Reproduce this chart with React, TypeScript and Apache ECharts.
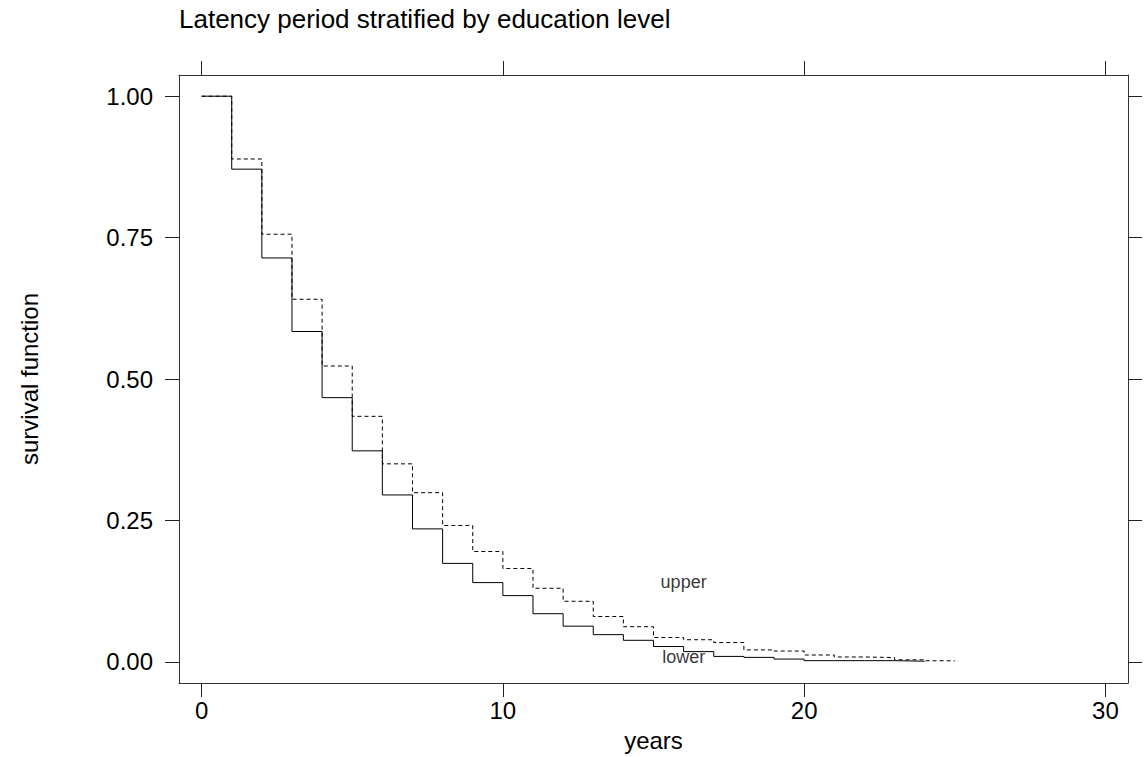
import React, { useEffect, useRef } from 'react';
import * as echarts from 'echarts';

// survival estimates, one value per year (step starts at that year)
const yearsLower = [0, 1, 2, 3, 4, 5, 6, 7, 8, 9, 10, 11, 12, 13, 14, 15, 16, 17, 18, 19, 20, 21, 22, 23, 24];
const survLower = [1.0, 0.871, 0.714, 0.584, 0.467, 0.373, 0.295, 0.235, 0.174, 0.14, 0.117, 0.085, 0.063, 0.048, 0.038, 0.027, 0.018, 0.0095, 0.0078, 0.0048, 0.002, 0.002, 0.002, 0.001, 0.001];

const yearsUpper = [0, 1, 2, 3, 4, 5, 6, 7, 8, 9, 10, 11, 12, 13, 14, 15, 16, 17, 18, 19, 20, 21, 22, 23, 24, 25];
const survUpper = [1.0, 0.889, 0.756, 0.641, 0.523, 0.434, 0.35, 0.299, 0.241, 0.195, 0.165, 0.13, 0.107, 0.08, 0.062, 0.043, 0.039, 0.034, 0.021, 0.019, 0.012, 0.0085, 0.0075, 0.0035, 0.0018, 0.0018];

const xTicks = [0, 10, 20, 30];
const yTicks = [0, 0.25, 0.5, 0.75, 1];

// group labels placed in the panel
const curveLabels = [
  { name: 'upper', year: 16, value: 0.141 },
  { name: 'lower', year: 16, value: 0.0085 },
];

const FONT = "'Liberation Sans', Arial, Helvetica, sans-serif";
const INK = '#222';

const App: React.FC = () => {
  const chartRef = useRef<HTMLDivElement>(null);

  useEffect(() => {
    const chart = echarts.init(chartRef.current!, null, { renderer: 'svg' });

    const tickStyle = { show: true, inside: false, length: 14, lineStyle: { color: INK, width: 1 } };
    const lineStyle = { show: true, onZero: false, lineStyle: { color: '#333', width: 1 } };

    const options = {
      animation: false,
      backgroundColor: '#fff',
      textStyle: { fontFamily: FONT },
      title: {
        text: 'Latency period stratified by education level',
        left: 179,
        top: 6,
        padding: 0,
        textStyle: { fontFamily: FONT, fontSize: 26, fontWeight: 'normal', color: '#000' },
      },
      grid: { left: 179, top: 75, width: 949, height: 611, containLabel: false },
      xAxis: [
        {
          type: 'value',
          position: 'bottom',
          min: -0.75,
          max: 30.75,
          name: 'years',
          nameLocation: 'middle',
          nameGap: 45,
          nameTextStyle: { fontFamily: FONT, fontSize: 24, color: '#000' },
          axisLine: lineStyle,
          axisTick: { ...tickStyle, customValues: xTicks },
          axisLabel: {
            customValues: xTicks,
            margin: 15,
            fontFamily: FONT,
            fontSize: 24,
            color: '#000',
          },
          splitLine: { show: false },
        },
        {
          type: 'value',
          position: 'top',
          min: -0.75,
          max: 30.75,
          axisLine: lineStyle,
          axisTick: { ...tickStyle, customValues: xTicks },
          axisLabel: { show: false },
          splitLine: { show: false },
        },
      ],
      yAxis: [
        {
          type: 'value',
          position: 'left',
          min: -0.0375,
          max: 1.0375,
          name: 'survival function',
          nameLocation: 'middle',
          nameGap: 138,
          nameTextStyle: { fontFamily: FONT, fontSize: 24, color: '#000' },
          axisLine: lineStyle,
          axisTick: { ...tickStyle, customValues: yTicks },
          axisLabel: {
            customValues: yTicks,
            margin: 26,
            fontFamily: FONT,
            fontSize: 24,
            color: '#000',
            formatter: (v: number) => v.toFixed(2),
          },
          splitLine: { show: false },
        },
        {
          type: 'value',
          position: 'right',
          min: -0.0375,
          max: 1.0375,
          axisLine: lineStyle,
          axisTick: { ...tickStyle, customValues: yTicks },
          axisLabel: { show: false },
          splitLine: { show: false },
        },
      ],
      series: [
        {
          name: 'upper',
          type: 'line',
          step: 'end',
          showSymbol: false,
          data: yearsUpper.map((y, i) => [y, survUpper[i]]),
          lineStyle: { color: '#000', width: 1, type: [4, 3] },
        },
        {
          name: 'lower',
          type: 'line',
          step: 'end',
          showSymbol: false,
          data: yearsLower.map((y, i) => [y, survLower[i]]),
          lineStyle: { color: '#000', width: 1 },
        },
        {
          name: 'labels',
          type: 'scatter',
          symbolSize: 0,
          data: curveLabels.map((l) => ({ name: l.name, value: [l.year, l.value] })),
          label: {
            show: true,
            position: 'inside',
            formatter: (p: any) => p.name,
            fontFamily: FONT,
            fontSize: 18,
            color: '#000',
          },
        },
      ],
    };

    chart.setOption(options);

    return () => {
      chart.dispose();
    };
  }, []);

  return (
    <div
      ref={chartRef}
      style={{ position: 'absolute', left: 0, top: 0, width: '1145px', height: '757px' }}
    ></div>
  );
};

export default App;
